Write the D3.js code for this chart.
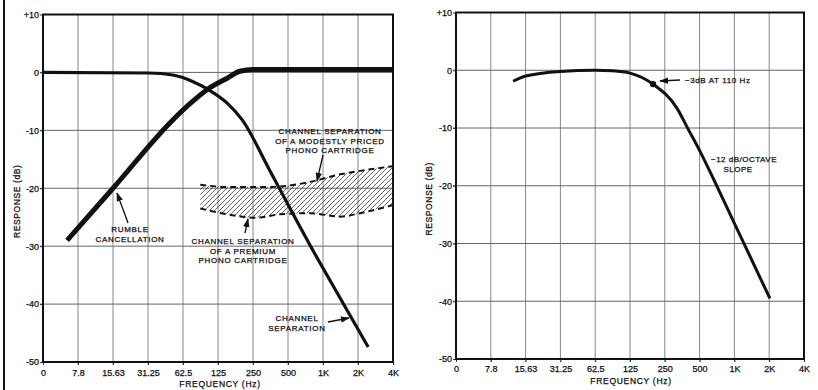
<!DOCTYPE html>
<html><head><meta charset="utf-8">
<script src="https://cdnjs.cloudflare.com/ajax/libs/d3/7.8.5/d3.min.js"></script>
<style>
body{margin:0;background:#fff}
text{font-family:"Liberation Sans",Arial,sans-serif;fill:#0d0d0d;stroke:#0d0d0d;stroke-width:0.25px}
</style>
</head><body><svg id="c" width="818" height="390"></svg>
<script>
// ---- data ----
const tickFreqs = [3.90625, 7.8125, 15.625, 31.25, 62.5, 125, 250, 500, 1000, 2000, 4000];
const tickLabels = ["0","7.8","15.63","31.25","62.5","125","250","500","1K","2K","4K"];
const yTicks = [10, 0, -10, -20, -30, -40, -50];
const yTickLabels = ["+10","0","-10","-20","-30","-40","-50"];

// left chart
const rumbleFreq = [6.3, 15.63, 51.1, 71.8, 102, 150, 193, 250, 4000];
const rumbleDb   = [-29, -20, -8.2, -5.4, -2.9, -1.0, 0.2, 0.5, 0.5];
const sepFreq = [3.906, 31.25, 51.1, 76.4, 102, 150, 202, 354, 818, 1484, 2446];
const sepDb   = [0, -0.1, -0.45, -1.6, -2.9, -5.3, -8.2, -17.2, -30.7, -39.8, -47.4];
const bandFreq  = [88, 160, 260, 426, 774, 1404, 2086, 4000];
const modestDb  = [-19.4, -19.8, -19.8, -19.7, -18.9, -17.6, -17.0, -16.2];
const premiumDb = [-23.5, -24.6, -25.1, -24.5, -24.3, -24.9, -24.3, -22.9];

// right chart
const filterFreq = [12.2, 15.63, 31.25, 62.5, 88.4, 125, 197.6, 319, 398, 503, 655, 952, 2028];
const filterDb   = [-1.9, -1.0, -0.2, 0, -0.1, -0.5, -2.4, -6.6, -10.2, -14, -18.7, -25.6, -39.5];
const markerFreq = [197.6];
const markerDb   = [-2.4];

// ---- drawing ----
const svg = d3.select("#c");

const defs = svg.append("defs");
defs.append("marker").attr("id","ah").attr("viewBox","0 0 10 10").attr("refX",9).attr("refY",5)
  .attr("markerWidth",7).attr("markerHeight",7).attr("orient","auto-start-reverse")
  .append("path").attr("d","M0,1.5 L10,5 L0,8.5 Z").attr("fill","#111");
const pat = defs.append("pattern").attr("id","hatch").attr("patternUnits","userSpaceOnUse")
  .attr("width",5).attr("height",5);
pat.append("path").attr("d","M-1,1 l2,-2 M0,5 l5,-5 M4,6 l2,-2").attr("stroke","#333").attr("stroke-width",0.75);

// scan edge line
svg.append("line").attr("x1",4).attr("x2",4).attr("y1",0).attr("y2",390).attr("stroke","#111").attr("stroke-width",2);

function panel(x0, x1, y0, y1, titleX, freqX, freqY, tickY) {
  const x = d3.scaleLog().base(2).domain([3.90625, 4000]).range([x0, x1]);
  const y = d3.scaleLinear().domain([10, -50]).range([y0, y1]);
  const g = svg.append("g");
  g.selectAll(".vg").data(tickFreqs.slice(1, -1)).join("line")
    .attr("x1", d => x(d)).attr("x2", d => x(d)).attr("y1", y0).attr("y2", y1 + 3)
    .attr("stroke", "#888").attr("stroke-width", 1);
  g.selectAll(".hg").data(yTicks.slice(1, -1)).join("line")
    .attr("x1", x0 - 3).attr("x2", x1).attr("y1", d => y(d)).attr("y2", d => y(d))
    .attr("stroke", "#666").attr("stroke-width", 1);
  const ya = g.append("g").attr("transform", `translate(${x0},0)`)
    .call(d3.axisLeft(y).tickValues(yTicks).tickFormat((d, i) => yTickLabels[i]).tickSize(3).tickPadding(1));
  ya.select(".domain").remove();
  ya.selectAll("line").attr("stroke", "#333");
  ya.selectAll("text").style("font-size", "9px").style("font-family", "Liberation Sans, Arial");
  const xa = g.append("g").attr("transform", `translate(0,${y1})`)
    .call(d3.axisBottom(x).tickValues(tickFreqs).tickFormat((d, i) => tickLabels[i]).tickSize(3).tickPadding(tickY));
  xa.select(".domain").remove();
  xa.selectAll("line").attr("stroke", "#333");
  xa.selectAll("text").style("font-size", "9px").style("font-family", "Liberation Sans, Arial");
  g.append("rect").attr("x", x0).attr("y", y0).attr("width", x1 - x0).attr("height", y1 - y0)
    .attr("fill", "none").attr("stroke", "#111").attr("stroke-width", 2);
  g.append("text").attr("transform", `translate(${titleX},${(y0 + y1) / 2 + 13}) rotate(-90)`)
    .attr("text-anchor", "middle").style("font-size", "8.5px").style("letter-spacing", "0.6px").text("RESPONSE (dB)");
  g.append("text").attr("x", freqX).attr("y", freqY).attr("text-anchor", "middle")
    .style("font-size", "8.5px").style("letter-spacing", "0.7px").text("FREQUENCY (Hz)");
  return { x, y, g };
}

function label(g, cx, lines, y0, dy) {
  lines.forEach((t, i) => {
    g.append("text").attr("x", cx).attr("y", y0 + i * dy).attr("text-anchor", "middle")
      .style("font-size", "8px").style("letter-spacing", "0.7px").text(t);
  });
}
function arrow(g, x1, y1, x2, y2) {
  g.append("line").attr("x1", x1).attr("y1", y1).attr("x2", x2).attr("y2", y2)
    .attr("stroke", "#111").attr("stroke-width", 1.3).attr("marker-end", "url(#ah)");
}

// LEFT PANEL
const L = panel(43, 393, 14.5, 362, 20, 220, 387, 5);
const band = bandFreq.map((f, i) => ({ f, hi: modestDb[i], lo: premiumDb[i] }));
L.g.append("path").datum(band)
  .attr("d", d3.area().x(d => L.x(d.f)).y0(d => L.y(d.lo)).y1(d => L.y(d.hi)).curve(d3.curveMonotoneX))
  .attr("fill", "url(#hatch)");
const dashLine = (key) => d3.line().x(d => L.x(d.f)).y(d => L.y(d[key])).curve(d3.curveMonotoneX);
["hi", "lo"].forEach(k => {
  L.g.append("path").datum(band).attr("d", dashLine(k)).attr("fill", "none")
    .attr("stroke", "#111").attr("stroke-width", 2).attr("stroke-dasharray", "6,4");
});
const sep = sepFreq.map((f, i) => ({ f, v: sepDb[i] }));
L.g.append("path").datum(sep)
  .attr("d", d3.line().x(d => L.x(d.f)).y(d => L.y(d.v)).curve(d3.curveMonotoneX))
  .attr("fill", "none").attr("stroke", "#111").attr("stroke-width", 3.2);
const rum = rumbleFreq.map((f, i) => ({ f, v: rumbleDb[i] }));
L.g.append("path").datum(rum)
  .attr("d", d3.line().x(d => L.x(d.f)).y(d => L.y(d.v)).curve(d3.curveMonotoneX))
  .attr("fill", "none").attr("stroke", "#111").attr("stroke-width", 5);

label(L.g, 130, ["RUMBLE", "CANCELLATION"], 232, 10);
arrow(L.g, 128, 223, 117, 193);
label(L.g, 330, ["CHANNEL SEPARATION", "OF A MODESTLY PRICED", "PHONO CARTRIDGE"], 134, 9.6);
arrow(L.g, 323, 155, 317, 181);
label(L.g, 243, ["CHANNEL SEPARATION", "OF A PREMIUM", "PHONO CARTRIDGE"], 244, 9.6);
arrow(L.g, 245, 233, 248, 219);
label(L.g, 297, ["CHANNEL", "SEPARATION"], 321, 9.5);
arrow(L.g, 328, 322, 349, 318);

// RIGHT PANEL
const R = panel(456, 804, 12.5, 359, 432, 631, 384, 4);
const flt = filterFreq.map((f, i) => ({ f, v: filterDb[i] }));
R.g.append("path").datum(flt)
  .attr("d", d3.line().x(d => R.x(d.f)).y(d => R.y(d.v)).curve(d3.curveMonotoneX))
  .attr("fill", "none").attr("stroke", "#111").attr("stroke-width", 3);
R.g.selectAll(".mk").data(markerFreq).join("circle")
  .attr("cx", d => R.x(d)).attr("cy", (d, i) => R.y(markerDb[i])).attr("r", 3.2).attr("fill", "#111");
R.g.append("text").attr("x", 685).attr("y", 83).style("font-size", "8px").style("letter-spacing", "0.6px").text("\u22123dB  AT  110 Hz");
arrow(R.g, 680, 80, 660, 81);
R.g.append("text").attr("x", 744).attr("y", 162).attr("text-anchor", "middle").style("font-size", "8px").style("letter-spacing", "0.5px").text("\u221212 dB/OCTAVE");
R.g.append("text").attr("x", 738).attr("y", 172).attr("text-anchor", "middle").style("font-size", "8px").style("letter-spacing", "0.5px").text("SLOPE");
</script>
</body></html>
